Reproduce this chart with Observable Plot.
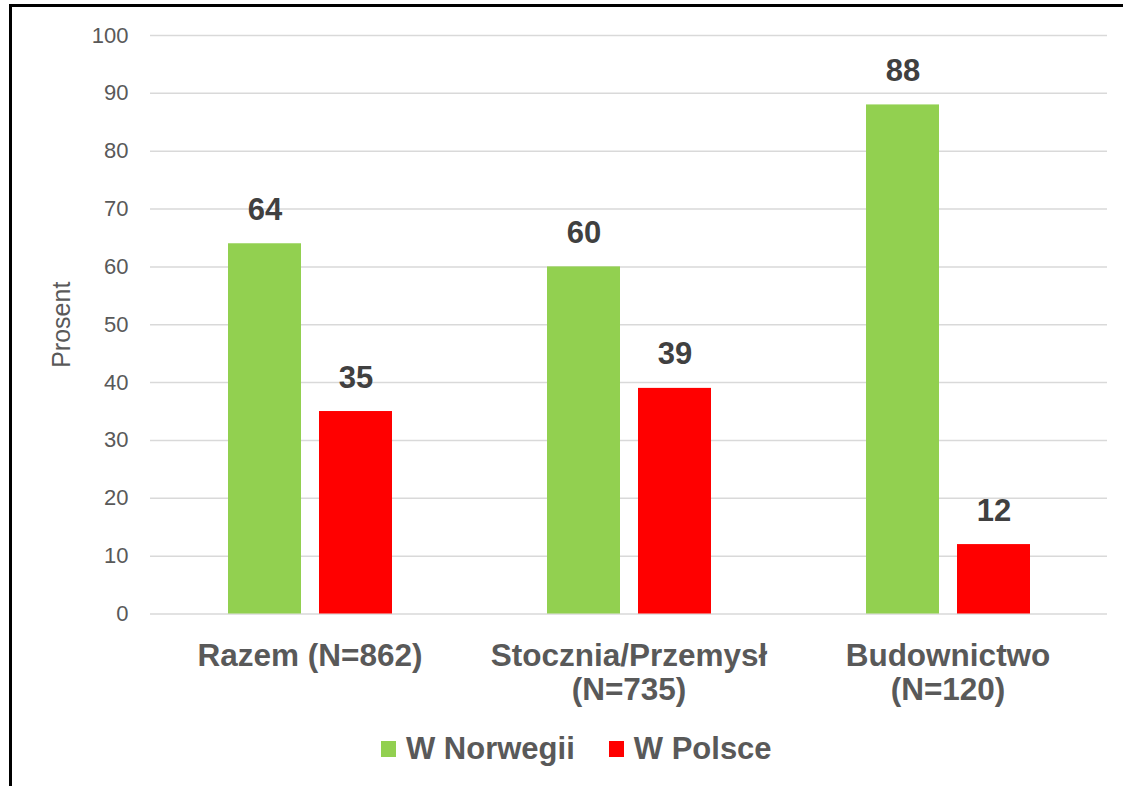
<!DOCTYPE html>
<html>
<head>
<meta charset="utf-8">
<script src="https://cdn.jsdelivr.net/npm/d3@7"></script>
<script src="https://cdn.jsdelivr.net/npm/@observablehq/plot@0.6"></script>
<style>
  html, body { margin: 0; padding: 0; background: #fff; width: 1123px; height: 786px; overflow: hidden; }
  #frame { position: absolute; left: 9px; top: 4px; width: 1200px; height: 900px; border-top: 3px solid #000; border-left: 3px solid #000; }
  #chart { position: absolute; left: 0; top: 0; }
  #legend { position: absolute; left: 381px; top: 731px; display: flex; align-items: center; font-family: "Liberation Sans", Arial, sans-serif; font-weight: bold; font-size: 31px; color: #595959; }
  .item { display: flex; align-items: center; margin-right: 34px; }
  .sw { width: 15px; height: 16px; margin-right: 10px; }
</style>
</head>
<body>
<div id="frame"></div>
<div id="chart"></div>
<div id="legend"></div>
<script>
const groups = ["Razem (N=862)", "Stocznia/Przemysł (N=735)", "Budownictwo (N=120)"];
const groupLabels = ["Razem (N=862)", "Stocznia/Przemysł\n(N=735)", "Budownictwo\n(N=120)"];
const series = ["W Norwegii", "W Polsce"];
const norwegia = [64, 60, 88];
const polska = [35, 39, 12];
const yTicks = [0, 10, 20, 30, 40, 50, 60, 70, 80, 90, 100];
const colors = ["#92D050", "#FF0000"];

const data = [];
groups.forEach((g, i) => {
  data.push({group: g, series: series[0], value: norwegia[i]});
  data.push({group: g, series: series[1], value: polska[i]});
});

const font = "'Liberation Sans', Arial, sans-serif";

const chart = Plot.plot({
  width: 1123,
  height: 720,
  marginLeft: 150,
  marginRight: 16,
  marginTop: 35,
  marginBottom: 106.5,
  style: {fontFamily: font, background: "transparent", overflow: "visible"},
  fx: {domain: groups, padding: 0, paddingOuter: 0, axis: null},
  x: {domain: series, paddingInner: 0.203, paddingOuter: 0.854, axis: null},
  y: {domain: [0, 100], axis: null},
  color: {domain: series, range: colors},
  marks: [
    Plot.gridY(yTicks, {stroke: "#d9d9d9", strokeOpacity: 1, strokeWidth: 1.5}),
    Plot.axisY({ticks: yTicks, tickSize: 0, tickPadding: 22, fontSize: 22, fill: "#595959", label: null}),
    Plot.axisY({ticks: [], tickSize: 0, label: "Prosent", labelArrow: "none", labelAnchor: "center", labelOffset: 98, fontSize: 25, fill: "#595959"}),
    Plot.axisFx({anchor: "bottom", tickSize: 0, tickPadding: 29, fontSize: 31.5, fontWeight: "bold", fill: "#595959", lineHeight: 1.05, label: null,
      tickFormat: d => groupLabels[groups.indexOf(d)]}),
    Plot.barY(data, {fx: "group", x: "series", y: "value", fill: "series"}),
    Plot.text(data, {fx: "group", x: "series", y: "value", text: d => String(d.value), dy: -24, lineAnchor: "bottom", fontSize: 31, fontWeight: "bold", fill: "#404040"})
  ]
});
document.getElementById("chart").appendChild(chart);

const legend = document.getElementById("legend");
series.forEach((s, i) => {
  const item = document.createElement("div");
  item.className = "item";
  const sw = document.createElement("div");
  sw.className = "sw";
  sw.style.background = colors[i];
  const t = document.createElement("span");
  t.textContent = s;
  item.appendChild(sw);
  item.appendChild(t);
  legend.appendChild(item);
});
</script>
</body>
</html>
